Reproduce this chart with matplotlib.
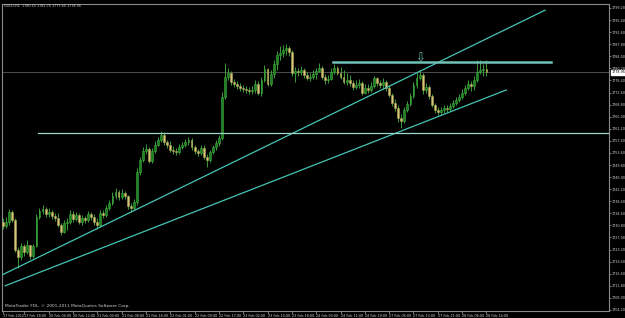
import numpy as np
import matplotlib; matplotlib.use("Agg")
import matplotlib.pyplot as plt
import matplotlib.transforms as mtransforms
from matplotlib import font_manager

# --- data (GOLD, H1) ---
TITLE      = "GOLD,H1  1780.15 1782.75 1777.65 1778.95"
COPYRIGHT  = "MetaTrader FDL, \u00a9 2001-2011 MetaQuotes Software Corp."
FIRST_OPEN = 1731.9
LAST_PRICE = 1778.95

CLOSE = [
    1730.6, 1731.9, 1735.0, 1732.5, 1723.1, 1720.9, 1724.3, 1722.4, 1724.6, 1721.2,
    1724.3, 1733.4, 1735.3, 1736.0, 1734.4, 1735.0, 1733.8, 1733.1, 1730.9, 1728.7,
    1731.6, 1731.9, 1734.4, 1732.8, 1734.1, 1731.9, 1733.1, 1732.5, 1734.4, 1733.4,
    1731.9, 1730.9, 1734.7, 1734.1, 1736.3, 1737.9, 1740.1, 1741.3, 1739.7, 1741.0,
    1740.1, 1736.9, 1736.3, 1738.2, 1747.6, 1751.4, 1754.2, 1754.8, 1751.1, 1754.2,
    1756.1, 1757.7, 1759.2, 1757.0, 1756.1, 1754.5, 1754.2, 1753.9, 1755.5, 1756.1,
    1757.0, 1757.7, 1755.5, 1754.2, 1753.6, 1755.2, 1752.3, 1751.4, 1753.9, 1755.5,
    1756.7, 1758.3, 1771.2, 1777.5, 1778.7, 1775.9, 1775.3, 1774.7, 1774.0, 1773.7,
    1773.4, 1773.1, 1773.4, 1775.3, 1772.5, 1776.5, 1780.0, 1775.3, 1778.4, 1781.6,
    1784.4, 1785.0, 1786.0, 1786.6, 1785.3, 1778.7, 1779.4, 1779.1, 1779.7, 1778.1,
    1777.2, 1777.5, 1778.4, 1779.4, 1780.3, 1777.5, 1776.5, 1776.9, 1779.1, 1780.3,
    1778.7, 1777.5, 1775.9, 1776.5, 1775.6, 1774.3, 1775.0, 1775.6, 1772.5, 1774.0,
    1773.4, 1774.7, 1777.2, 1775.6, 1775.0, 1775.9, 1774.0, 1771.8, 1769.3, 1767.7,
    1764.6, 1763.6, 1767.1, 1769.0, 1771.5, 1775.0, 1777.2, 1778.1, 1773.4, 1774.3,
    1771.5, 1768.7, 1767.1, 1766.5, 1767.1, 1767.7, 1767.4, 1768.4, 1769.3, 1770.2,
    1771.2, 1772.5, 1774.0, 1775.3, 1774.7, 1776.5, 1779.1, 1779.7, 1780.15, 1778.95,
]
HIGH = [
    1733.1, 1733.4, 1736.0, 1735.6, 1733.1, 1724.0, 1725.3, 1725.0, 1726.2, 1724.6,
    1725.0, 1734.4, 1736.3, 1737.2, 1736.6, 1736.3, 1735.6, 1734.7, 1734.7, 1731.6,
    1732.5, 1733.1, 1735.6, 1735.3, 1735.0, 1734.7, 1734.1, 1733.8, 1735.3, 1735.0,
    1734.4, 1733.1, 1735.6, 1735.6, 1737.2, 1738.8, 1741.3, 1742.6, 1741.9, 1742.3,
    1741.6, 1740.4, 1737.9, 1739.1, 1748.9, 1752.3, 1755.5, 1756.4, 1755.5, 1755.2,
    1757.4, 1758.6, 1760.5, 1760.2, 1757.7, 1757.4, 1755.8, 1755.2, 1756.4, 1757.0,
    1758.0, 1758.6, 1758.3, 1756.1, 1754.8, 1756.1, 1756.1, 1753.3, 1754.5, 1756.1,
    1757.7, 1759.2, 1772.8, 1781.9, 1780.3, 1779.4, 1776.9, 1776.2, 1775.6, 1775.0,
    1774.7, 1774.3, 1774.7, 1776.5, 1776.2, 1777.5, 1781.3, 1780.3, 1779.7, 1782.8,
    1785.7, 1787.2, 1787.5, 1787.9, 1787.2, 1786.0, 1780.6, 1780.3, 1780.9, 1780.3,
    1779.1, 1778.7, 1779.7, 1780.3, 1781.9, 1780.9, 1778.4, 1778.1, 1780.3, 1781.6,
    1780.9, 1780.6, 1779.7, 1778.7, 1778.1, 1776.5, 1776.5, 1776.9, 1776.2, 1775.3,
    1775.3, 1775.9, 1777.8, 1777.5, 1776.5, 1777.2, 1776.5, 1775.0, 1772.5, 1770.6,
    1768.7, 1765.8, 1768.0, 1769.9, 1772.5, 1775.9, 1779.1, 1779.7, 1778.7, 1775.6,
    1775.0, 1772.1, 1769.3, 1768.0, 1768.0, 1768.7, 1768.7, 1769.3, 1770.2, 1771.2,
    1772.1, 1773.7, 1775.0, 1776.5, 1776.2, 1777.8, 1782.8, 1782.8, 1781.6, 1782.75,
]
LOW = [
    1729.7, 1730.0, 1730.9, 1731.9, 1722.4, 1717.4, 1719.9, 1721.2, 1721.8, 1720.2,
    1720.6, 1724.0, 1732.8, 1734.4, 1733.4, 1733.4, 1732.8, 1732.2, 1730.3, 1727.8,
    1728.4, 1729.4, 1731.2, 1731.9, 1732.2, 1731.2, 1730.9, 1731.6, 1731.9, 1732.5,
    1730.9, 1729.7, 1730.3, 1733.1, 1733.4, 1735.6, 1737.2, 1739.1, 1738.8, 1739.1,
    1739.1, 1736.0, 1735.0, 1735.6, 1737.2, 1746.7, 1750.7, 1753.3, 1750.4, 1750.4,
    1753.6, 1755.8, 1757.0, 1756.1, 1755.2, 1753.9, 1753.3, 1753.0, 1753.3, 1754.8,
    1755.5, 1756.1, 1754.5, 1753.3, 1752.6, 1753.0, 1751.7, 1749.2, 1750.7, 1753.3,
    1754.5, 1755.8, 1757.7, 1770.6, 1776.5, 1775.0, 1774.3, 1773.7, 1773.1, 1772.8,
    1772.5, 1772.1, 1772.1, 1772.5, 1771.8, 1771.5, 1775.9, 1774.7, 1774.7, 1777.2,
    1779.7, 1782.8, 1783.8, 1784.4, 1784.1, 1777.8, 1775.9, 1777.8, 1778.1, 1777.2,
    1776.5, 1776.2, 1776.9, 1776.9, 1779.1, 1776.9, 1775.3, 1775.6, 1776.5, 1778.4,
    1778.1, 1776.9, 1775.3, 1775.0, 1774.7, 1773.4, 1773.7, 1774.0, 1771.8, 1772.1,
    1772.5, 1772.8, 1774.0, 1774.7, 1774.0, 1773.7, 1773.1, 1771.2, 1768.4, 1766.8,
    1763.3, 1761.4, 1763.0, 1766.5, 1768.4, 1770.9, 1774.0, 1776.5, 1772.1, 1772.5,
    1770.6, 1768.0, 1766.2, 1765.5, 1765.8, 1766.2, 1766.5, 1766.8, 1767.7, 1768.7,
    1769.6, 1770.6, 1771.8, 1773.4, 1773.1, 1773.4, 1775.9, 1778.4, 1777.8, 1777.65,
]

PRICE_TICKS = [1704.20, 1708.00, 1711.80, 1715.60, 1719.40, 1723.20, 1727.00, 1730.80,
               1734.60, 1738.40, 1742.20, 1746.00, 1749.80, 1753.60, 1757.40, 1761.20,
               1765.00, 1768.80, 1772.60, 1776.40, 1780.20, 1784.00, 1787.80, 1791.60,
               1795.40, 1799.20]
TIME_TICKS  = [0, 7, 15, 23, 31, 39, 47, 55, 63, 71, 79, 87, 95, 103, 111, 119,
               127, 135, 143, 151, 159]
TIME_LABELS = ["17 Feb 2012", "17 Feb 18:00", "20 Feb 04:00", "20 Feb 12:00",
               "21 Feb 00:00", "21 Feb 08:00", "21 Feb 16:00", "22 Feb 01:00",
               "22 Feb 09:00", "22 Feb 17:00", "23 Feb 02:00", "23 Feb 10:00",
               "23 Feb 18:00", "24 Feb 03:00", "24 Feb 11:00", "24 Feb 19:00",
               "27 Feb 05:00", "27 Feb 13:00", "27 Feb 21:00", "28 Feb 06:00",
               "28 Feb 14:00"]

# trend lines drawn on the chart: (bar, price) anchors
UPPER_TREND = ([-1.0, 178.3], [1714.9, 1798.5])
LOWER_TREND = ([0.7, 165.5], [1711.8, 1773.4])
SUPPORT     = ([11.5, 199.5], [1759.9, 1759.9])
RESIST      = ([108.6, 180.3], [1782.2, 1782.2])
ARROW_AT    = (137.2, 1783.4)

BG        = "black"
BULL_FACE = "#1f7f22"
BULL_EDGE = "#3fae3f"
BEAR_FACE = "#d6c77c"
BEAR_EDGE = "#a9a050"
WICK      = "#3a9c3a"
TXT       = "#d0d0d0"
AXIS      = "#8a8a8a"

# small condensed face if present, like the terminal's pixel font
names = {f.name for f in font_manager.fontManager.ttflist}
SMALL = "Liberation Sans Narrow" if "Liberation Sans Narrow" in names else "DejaVu Sans"
narrow = SMALL != "DejaVu Sans"
FS_AX  = 3.0 if narrow else 2.4
FS_X   = 3.0 if narrow else 2.4

x      = np.arange(len(CLOSE))
close  = np.array(CLOSE)
opens  = np.array([FIRST_OPEN] + CLOSE[:-1])
bull   = close >= opens
bottom = np.minimum(opens, close)
height = np.maximum(np.abs(close - opens), 0.15)

fig = plt.figure(figsize=(6.25, 3.18), dpi=100, facecolor=BG)
ax  = fig.add_axes([2 / 625, 7 / 318, 607 / 625, 307 / 318])
ax.set_facecolor(BG)

# current bid line
ax.axhline(LAST_PRICE, color="#4e4e4e", lw=0.7, zorder=1)

# candles
ax.vlines(x, LOW, HIGH, color=WICK, lw=0.7, zorder=2)
ax.bar(x[bull], height[bull], bottom=bottom[bull], width=0.62,
       color=BULL_FACE, edgecolor=BULL_EDGE, lw=0.4, zorder=3)
ax.bar(x[~bull], height[~bull], bottom=bottom[~bull], width=0.62,
       color=BEAR_FACE, edgecolor=BEAR_EDGE, lw=0.4, zorder=3)

# analyst lines
ax.plot(*UPPER_TREND, color="#45c4b4", lw=0.9, zorder=4)
ax.plot(*LOWER_TREND, color="#45c4b4", lw=0.9, zorder=4)
ax.plot(*SUPPORT, color="#9ad8cc", lw=0.9, zorder=4)
ax.plot(*RESIST, color="#6fc0b6", lw=1.8, zorder=4)
ax.text(*ARROW_AT, "\u21e9", color="#6fc0b6", fontsize=8.5,
        ha="center", va="center", zorder=5)

ax.set_xlim(-0.33, 199.3)
ax.set_ylim(1703.88, 1800.44)

# right-hand price scale
ax.yaxis.tick_right()
ax.set_yticks(PRICE_TICKS)
ax.set_yticklabels([f"{v:.2f}" for v in PRICE_TICKS], family=SMALL)
ax.tick_params(axis="y", colors=AXIS, labelcolor=TXT, labelsize=FS_AX,
               length=1.5, width=0.6, pad=0.5)
ax.set_xticks(TIME_TICKS)
ax.set_xticklabels(TIME_LABELS, ha="left", family=SMALL)
ax.tick_params(axis="x", colors=AXIS, labelcolor=TXT, labelsize=FS_X,
               length=2, width=0.6, pad=0.3)

for side in ("left", "right", "bottom", "top"):
    ax.spines[side].set_color(AXIS)
    ax.spines[side].set_linewidth(0.8)

# last price tag on the scale
tr = mtransforms.blended_transform_factory(ax.transAxes, ax.transData)
ax.text(1.0035, LAST_PRICE, f"{LAST_PRICE:.2f}", transform=tr, fontsize=FS_AX,
        family=SMALL, color="black", ha="left", va="center", clip_on=False,
        bbox=dict(boxstyle="square,pad=0.1", fc="white", ec="white"))

fig.text(4 / 625, 1 - 4 / 318, TITLE, color=TXT, fontsize=FS_X, family=SMALL,
         ha="left", va="top")
ax.text(3 / 607, 3 / 307, COPYRIGHT, transform=ax.transAxes, color=TXT,
        fontsize=FS_AX + 0.7, family=SMALL, ha="left", va="bottom")

fig.savefig("out.png", dpi=100, facecolor=BG)
